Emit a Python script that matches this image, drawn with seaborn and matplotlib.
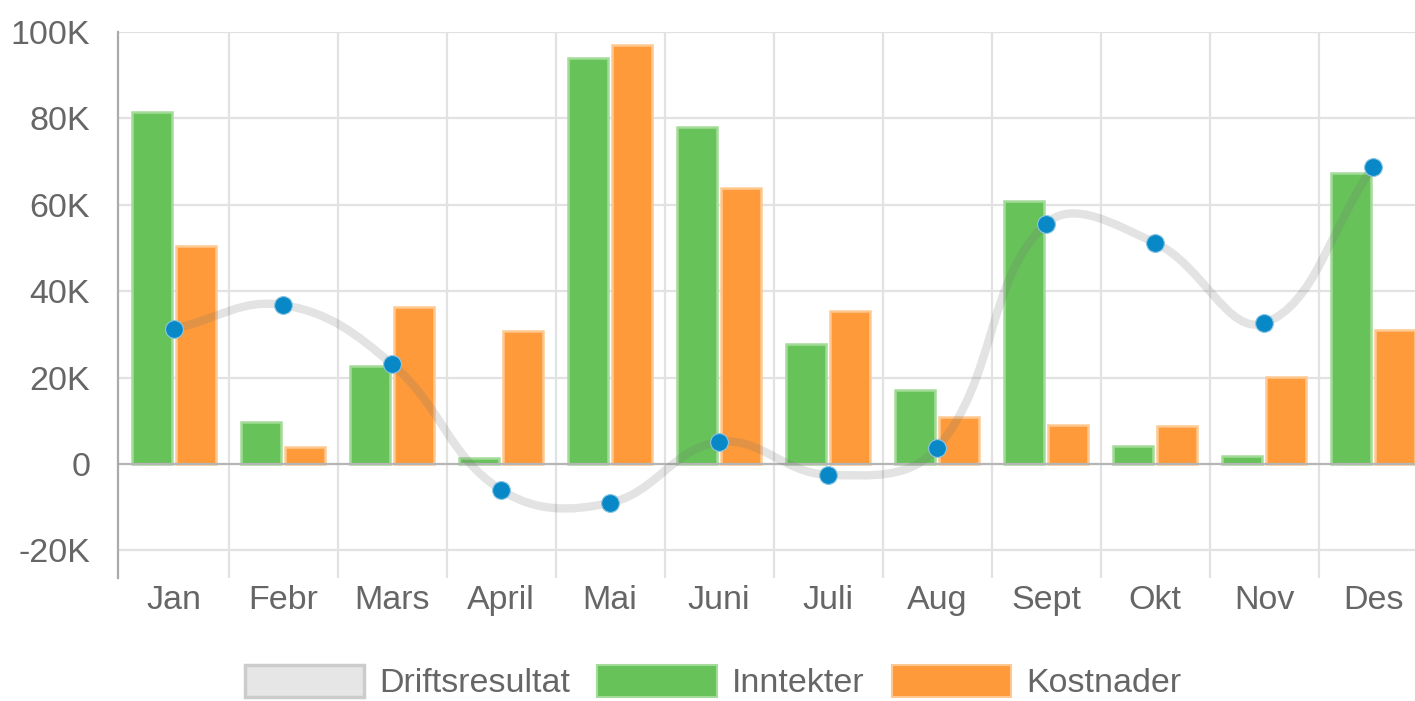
import numpy as np
import pandas as pd
import matplotlib
matplotlib.use("Agg")
import matplotlib.pyplot as plt
import seaborn as sns
from matplotlib.path import Path
from matplotlib.patches import PathPatch, Patch
from matplotlib.ticker import FuncFormatter

# data
months = ["Jan", "Febr", "Mars", "April", "Mai", "Juni", "Juli", "Aug",
          "Sept", "Okt", "Nov", "Des"]
inntekter = [81500, 9700, 22700, 1400, 94000, 78000, 27800, 17100,
             60900, 4200, 1900, 67400]
kostnader = [50500, 3900, 36300, 30800, 97000, 63900, 35400, 10900,
             9000, 8800, 20100, 31000]
drift = [31300, 36800, 23100, -6000, -9000, 5100, -2500, 3700,
         55600, 51200, 32600, 68800]

GREEN = "#67c25a"
GREEN_EDGE = "#a3dc98"
ORANGE = "#fe9a3a"
ORANGE_EDGE = "#ffc891"
BLUE = "#0888c6"
GRID = "#e2e2e2"
TXT = "#666666"
FS = 24.5

sns.set_theme(style="white")
plt.rcParams["font.family"] = ["Liberation Sans", "DejaVu Sans"]

fig = plt.figure(figsize=(14.15, 7.01), dpi=100)
ax = fig.add_axes([118 / 1415, 1 - 578 / 701, 1 - 118 / 1415, (578 - 32) / 701])

df = pd.DataFrame({
    "month": months * 2,
    "value": inntekter + kostnader,
    "serie": ["Inntekter"] * 12 + ["Kostnader"] * 12,
})
sns.barplot(data=df, x="month", y="value", hue="serie",
            palette=[GREEN, ORANGE], width=0.8, gap=0.08,
            saturation=1, legend=False, ax=ax, zorder=3)
for bar in ax.patches:
    fc = matplotlib.colors.to_hex(bar.get_facecolor())
    bar.set_edgecolor(GREEN_EDGE if fc == GREEN else ORANGE_EDGE)
    bar.set_linewidth(1.8)

# smooth line (chart.js style tension 0.4), computed in pixel-like units
xs = np.arange(len(months), dtype=float)
ys = np.array(drift, dtype=float)
sx, sy = 109.0, 86.4 / 20000
px, py = xs * sx, ys * sy
t = 0.4
cp_prev, cp_next = [], []
n = len(px)
for i in range(n):
    p0 = (px[max(i - 1, 0)], py[max(i - 1, 0)])
    p1 = (px[i], py[i])
    p2 = (px[min(i + 1, n - 1)], py[min(i + 1, n - 1)])
    d01 = np.hypot(p1[0] - p0[0], p1[1] - p0[1])
    d12 = np.hypot(p2[0] - p1[0], p2[1] - p1[1])
    s01 = d01 / (d01 + d12)
    s12 = d12 / (d01 + d12)
    fa, fb = t * s01, t * s12
    cp_prev.append((p1[0] - fa * (p2[0] - p0[0]), p1[1] - fa * (p2[1] - p0[1])))
    cp_next.append((p1[0] + fb * (p2[0] - p0[0]), p1[1] + fb * (p2[1] - p0[1])))
verts = [(px[0], py[0])]
codes = [Path.MOVETO]
for i in range(n - 1):
    verts += [cp_next[i], cp_prev[i + 1], (px[i + 1], py[i + 1])]
    codes += [Path.CURVE4] * 3
verts = [(vx / sx, vy / sy) for vx, vy in verts]
ax.add_patch(PathPatch(Path(verts, codes), facecolor="none",
                       edgecolor=(0.45, 0.45, 0.45, 0.2), lw=6,
                       capstyle="round", zorder=4))

sns.scatterplot(x=xs, y=ys, color=BLUE, s=165, edgecolor="#8cc6e3",
                linewidth=0.8, zorder=5, ax=ax, legend=False)

# axes styling
ax.set_xlim(-0.514, 11.385)
ax.set_ylim(-26400, 100000)
ax.set_yticks(np.arange(-20000, 100001, 20000))
ax.yaxis.set_major_formatter(FuncFormatter(
    lambda v, p: "0" if v == 0 else f"{int(v / 1000)}K"))
ax.set_xlabel("")
ax.set_ylabel("")
for s in ["top", "right", "bottom"]:
    ax.spines[s].set_visible(False)
ax.spines["left"].set_color("#aaaaaa")
ax.spines["left"].set_linewidth(1.6)
ax.spines["left"].set_zorder(6)

for yv in np.arange(-20000, 100001, 20000):
    ax.axhline(yv, color="#b5b5b5" if yv == 0 else GRID,
               lw=1.6, zorder=3.5 if yv == 0 else 1)
for xv in np.arange(0.5, 11, 1.0):
    ax.axvline(xv, color=GRID, lw=1.6, zorder=1)

ax.tick_params(axis="y", length=19, width=1.6, color=GRID, pad=1,
               labelsize=FS, labelcolor=TXT)
ax.tick_params(axis="x", length=0, pad=5, labelsize=FS, labelcolor=TXT)
ax.set_xticks(xs)
ax.set_xticklabels(months)

handles = [
    Patch(facecolor="#e6e6e6", edgecolor="#cccccc", lw=2.5, label="Driftsresultat"),
    Patch(facecolor=GREEN, edgecolor=GREEN_EDGE, lw=1.5, label="Inntekter"),
    Patch(facecolor=ORANGE, edgecolor=ORANGE_EDGE, lw=1.5, label="Kostnader"),
]
leg = fig.legend(handles=handles, loc="center", bbox_to_anchor=(713 / 1415, 1 - 682 / 701),
                 ncol=3, frameon=False, fontsize=FS, handlelength=3.5,
                 handleheight=1.1, handletextpad=0.45, columnspacing=0.8,
                 borderpad=0)
for txt in leg.get_texts():
    txt.set_color(TXT)

fig.savefig("out.png", dpi=100)
